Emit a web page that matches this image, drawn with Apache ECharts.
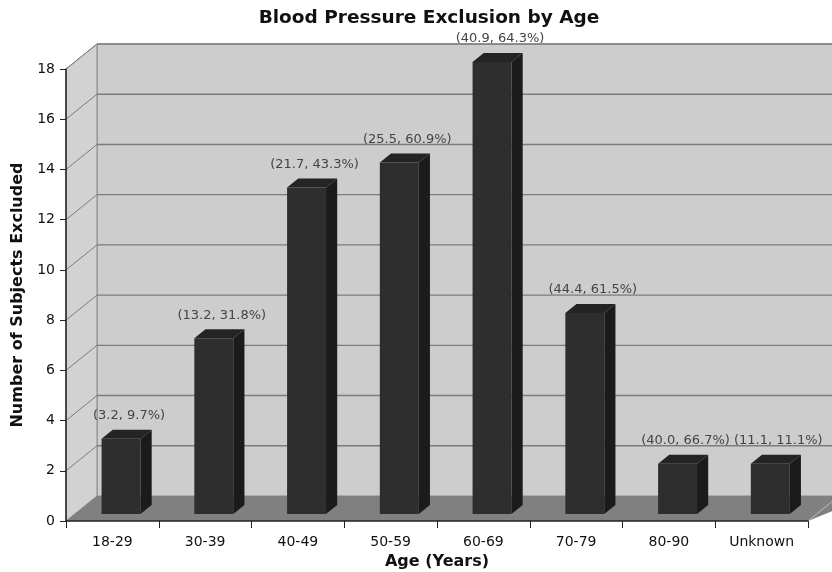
<!DOCTYPE html>
<html>
<head>
<meta charset="utf-8">
<script src="https://cdn.jsdelivr.net/npm/echarts@6/dist/echarts.min.js"></script>
<style>
  html, body { margin: 0; padding: 0; background: #ffffff; }
  #chart { width: 832px; height: 572px; }
</style>
</head>
<body>
<div id="chart"></div>
<script>
// Age groups and the number of subjects excluded in each
var categories = ['18-29', '30-39', '40-49', '50-59', '60-69', '70-79', '80-90', 'Unknown'];
var excludedCounts = [3, 7, 13, 14, 18, 8, 2, 2];
// Bar annotations: (percent of age group, percent of all exclusions)
var pctOfGroup = [3.2, 13.2, 21.7, 25.5, 40.9, 44.4, 40.0, 11.1];
var pctOfExcluded = [9.7, 31.8, 43.3, 60.9, 64.3, 61.5, 66.7, 11.1];
// Value-axis ticks
var yTicks = [0, 2, 4, 6, 8, 10, 12, 14, 16, 18];

// Pseudo-3D geometry (pixels / fractions of the wall depth)
var WALL_DX = 31, WALL_DY = 25;
var BAR_FRONT = 0.28, BAR_DEPTH = 0.36, BAR_WIDTH = 0.42;
var FONT = 'DejaVu Sans';

var chart = echarts.init(document.getElementById('chart'), null, { renderer: 'canvas' });

function renderWalls(params, api) {
  var cs = params.coordSys;
  var x0 = cs.x, y0 = cs.y, w = cs.width, h = cs.height;
  var children = [];
  // back wall
  children.push({ type: 'rect', shape: { x: x0 + WALL_DX, y: y0 - WALL_DY, width: w + WALL_DX, height: h },
    style: { fill: '#cdcdcd', stroke: '#8a8a8a', lineWidth: 1 } });
  // left side wall
  children.push({ type: 'polygon', shape: { points: [[x0, y0], [x0 + WALL_DX, y0 - WALL_DY], [x0 + WALL_DX, y0 + h - WALL_DY], [x0, y0 + h]] },
    style: { fill: '#d2d2d2', stroke: '#8a8a8a', lineWidth: 1 } });
  // grid lines on both walls
  yTicks.forEach(function (v) {
    if (v === 0) return;
    var y = api.coord([0, v])[1];
    children.push({ type: 'line', shape: { x1: x0 + WALL_DX, y1: y - WALL_DY, x2: x0 + w + 2 * WALL_DX, y2: y - WALL_DY },
      style: { stroke: '#7c7c7c', lineWidth: 1.4 } });
    children.push({ type: 'line', shape: { x1: x0, y1: y, x2: x0 + WALL_DX, y2: y - WALL_DY },
      style: { stroke: '#7c7c7c', lineWidth: 1 } });
  });
  // floor
  children.push({ type: 'polygon', shape: { points: [[x0, y0 + h], [x0 + WALL_DX, y0 + h - WALL_DY], [x0 + w + 2 * WALL_DX, y0 + h - WALL_DY], [x0 + w, y0 + h]] },
    style: { fill: '#808080' } });
  children.push({ type: 'line', shape: { x1: x0 + w, y1: y0 + h, x2: x0 + w + WALL_DX, y2: y0 + h - WALL_DY },
    style: { stroke: '#bdbdbd', lineWidth: 1 } });
  return { type: 'group', children: children };
}

function renderBar(params, api) {
  var i = api.value(0), v = api.value(1);
  var base = api.coord([i, 0]);
  var top = api.coord([i, v]);
  var cw = api.size([1, 0])[0];
  var bw = cw * BAR_WIDTH;
  var fx = base[0] + WALL_DX * BAR_FRONT - bw / 2;
  var fyb = base[1] - WALL_DY * BAR_FRONT;
  var fyt = top[1] - WALL_DY * BAR_FRONT;
  var ddx = WALL_DX * BAR_DEPTH, ddy = WALL_DY * BAR_DEPTH;
  var children = [
    { type: 'polygon', shape: { points: [[fx + bw, fyt], [fx + bw + ddx, fyt - ddy], [fx + bw + ddx, fyb - ddy], [fx + bw, fyb]] },
      style: { fill: '#1b1b1b' } },
    { type: 'polygon', shape: { points: [[fx, fyt], [fx + ddx, fyt - ddy], [fx + bw + ddx, fyt - ddy], [fx + bw, fyt]] },
      style: { fill: '#242424' } },
    { type: 'rect', shape: { x: fx, y: fyt, width: bw, height: fyb - fyt },
      style: { fill: '#2e2e2e' } },
    { type: 'text', style: {
        x: fx + bw / 2 + 8, y: fyt - ddy - 14,
        text: '(' + pctOfGroup[i].toFixed(1) + ', ' + pctOfExcluded[i].toFixed(1) + '%)',
        fontFamily: FONT, fontSize: 13, fill: '#444444', align: 'center', verticalAlign: 'middle' } }
  ];
  return { type: 'group', children: children };
}

var option = {
  backgroundColor: '#ffffff',
  animation: false,
  textStyle: { fontFamily: FONT },
  title: {
    text: 'Blood Pressure Exclusion by Age',
    left: 424, top: 4, textAlign: 'center',
    textStyle: { fontFamily: FONT, fontSize: 18.5, fontWeight: 'bold', color: '#111111' }
  },
  grid: { left: 66, right: 24, top: 69, bottom: 51, containLabel: false, outerBoundsMode: 'none' },
  xAxis: {
    type: 'category',
    data: categories,
    name: 'Age (Years)',
    nameLocation: 'middle',
    nameGap: 27,
    nameTextStyle: { fontFamily: FONT, fontSize: 16, fontWeight: 'bold', color: '#111111' },
    axisLine: { lineStyle: { color: '#222222', width: 1.5 } },
    axisTick: { show: true, length: 7, lineStyle: { color: '#222222' } },
    axisLabel: { fontFamily: FONT, fontSize: 14, color: '#111111', margin: 14 },
    splitLine: { show: false }
  },
  yAxis: {
    type: 'value',
    min: 0, max: 18, interval: 2,
    name: 'Number of Subjects Excluded',
    nameLocation: 'middle',
    nameGap: 39,
    nameTextStyle: { fontFamily: FONT, fontSize: 16, fontWeight: 'bold', color: '#111111' },
    axisLine: { show: true, lineStyle: { color: '#222222', width: 1.5 } },
    axisTick: { show: true, length: 6, lineStyle: { color: '#222222' } },
    axisLabel: { fontFamily: FONT, fontSize: 14, color: '#111111', margin: 11,
      formatter: function (v) { return yTicks.indexOf(v) >= 0 ? String(v) : ''; } },
    splitLine: { show: false }
  },
  series: [
    {
      type: 'custom',
      z: -1,
      silent: true,
      renderItem: renderWalls,
      data: [[0, 0]]
    },
    {
      type: 'custom',
      z: 2,
      renderItem: renderBar,
      encode: { x: 0, y: 1 },
      data: excludedCounts.map(function (c, i) { return [i, c]; })
    }
  ]
};

chart.setOption(option);
</script>
</body>
</html>
